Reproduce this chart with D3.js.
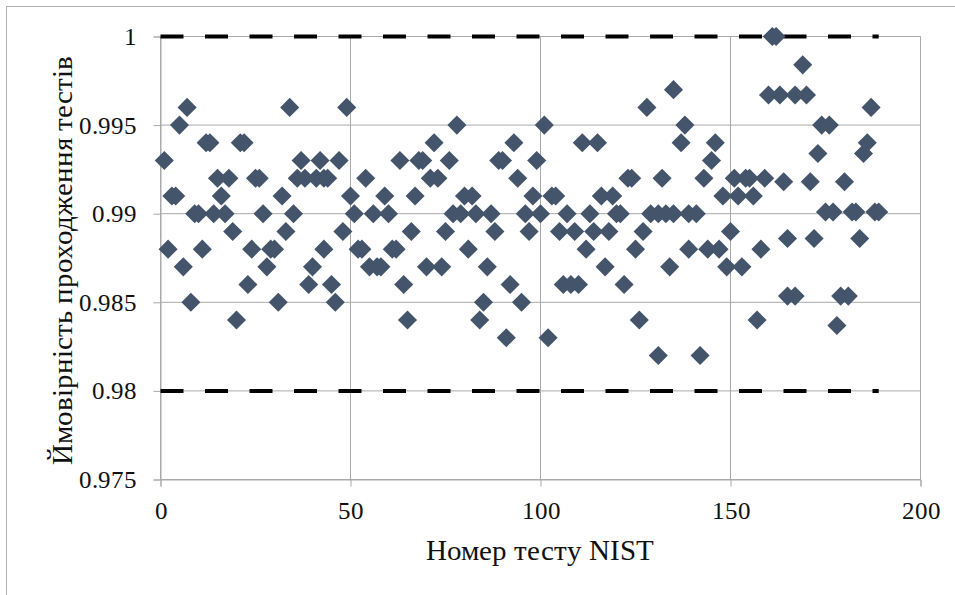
<!DOCTYPE html>
<html>
<head>
<meta charset="utf-8">
<script src="https://cdn.jsdelivr.net/npm/d3@7"></script>
<style>
  @font-face { font-family: "ChartSerif"; src: local("Liberation Serif"), local("LiberationSerif"), local("Liberation Serif Regular"), local("LiberationSerif-Regular"); }
  .serif-text { font-family: "ChartSerif", "Liberation Serif", "Times New Roman", serif; }
</style>
</head>
<body style="margin:0">
<svg id="chart" width="955" height="595"></svg>
<script>
// номер тесту NIST і ймовірність проходження
const testNumber = [
    1, 2, 3, 4, 5, 6, 7, 8, 9, 10,
    11, 12, 13, 14, 15, 16, 17, 18, 19, 20,
    21, 22, 23, 24, 25, 26, 27, 28, 29, 30,
    31, 32, 33, 34, 35, 36, 37, 38, 39, 40,
    41, 42, 43, 43, 44, 45, 46, 47, 48, 49,
    50, 51, 52, 53, 54, 55, 56, 57, 58, 59,
    60, 61, 62, 63, 64, 65, 66, 67, 68, 69,
    70, 71, 72, 73, 74, 75, 76, 77, 78, 79,
    80, 81, 82, 83, 84, 85, 86, 87, 88, 89,
    90, 91, 92, 93, 94, 95, 96, 97, 98, 99,
    100, 101, 102, 103, 104, 105, 106, 107, 108, 109,
    110, 111, 112, 113, 114, 115, 116, 117, 118, 119,
    120, 121, 122, 123, 124, 125, 126, 127, 128, 129,
    131, 131, 132, 133, 134, 135, 135, 137, 138, 139,
    139, 141, 142, 143, 144, 145, 146, 147, 148, 149,
    150, 151, 152, 153, 154, 155, 156, 157, 158, 159,
    160, 161, 162, 163, 164, 165, 165, 167, 167, 169,
    170, 171, 172, 173, 174, 175, 176, 177, 178, 179,
    180, 181, 182, 183, 184, 185, 186, 187, 188, 189
];
const passRate = [
    0.993, 0.988, 0.991, 0.991, 0.995, 0.987, 0.996, 0.985, 0.990, 0.990,
    0.988, 0.994, 0.994, 0.990, 0.992, 0.991, 0.990, 0.992, 0.989, 0.984,
    0.994, 0.994, 0.986, 0.988, 0.992, 0.992, 0.990, 0.987, 0.988, 0.988,
    0.985, 0.991, 0.989, 0.996, 0.990, 0.992, 0.993, 0.992, 0.986, 0.987,
    0.992, 0.993, 0.992, 0.988, 0.992, 0.986, 0.985, 0.993, 0.989, 0.996,
    0.991, 0.990, 0.988, 0.988, 0.992, 0.987, 0.990, 0.987, 0.987, 0.991,
    0.990, 0.988, 0.988, 0.993, 0.986, 0.984, 0.989, 0.991, 0.993, 0.993,
    0.987, 0.992, 0.994, 0.992, 0.987, 0.989, 0.993, 0.990, 0.995, 0.990,
    0.991, 0.988, 0.991, 0.990, 0.984, 0.985, 0.987, 0.990, 0.989, 0.993,
    0.993, 0.983, 0.986, 0.994, 0.992, 0.985, 0.990, 0.989, 0.991, 0.993,
    0.990, 0.995, 0.983, 0.991, 0.991, 0.989, 0.986, 0.990, 0.986, 0.989,
    0.986, 0.994, 0.988, 0.990, 0.989, 0.994, 0.991, 0.987, 0.989, 0.991,
    0.990, 0.990, 0.986, 0.992, 0.992, 0.988, 0.984, 0.989, 0.996, 0.990,
    0.990, 0.982, 0.992, 0.990, 0.987, 0.997, 0.990, 0.994, 0.995, 0.988,
    0.990, 0.990, 0.982, 0.992, 0.988, 0.993, 0.994, 0.988, 0.991, 0.987,
    0.989, 0.992, 0.991, 0.987, 0.992, 0.992, 0.991, 0.984, 0.988, 0.992,
    0.9967, 1.000, 1.000, 0.9967, 0.9918, 0.9886, 0.98535, 0.98535, 0.9967, 0.9984,
    0.9967, 0.9918, 0.9886, 0.9934, 0.995, 0.9901, 0.995, 0.9901, 0.98369, 0.98535,
    0.9918, 0.98535, 0.9901, 0.9901, 0.9886, 0.9934, 0.994, 0.996, 0.9901, 0.9901
];

// межі (пунктирні лінії)
const limitLevels = [0.98, 1];
const limitFrom = [0, 189];

const xTicks = [0, 50, 100, 150, 200];
const yTicks = [0.975, 0.98, 0.985, 0.99, 0.995, 1];
const xTitle = "Номер тесту NIST";
const yTitle = "Ймовірність проходження тестів";

const gridColor = "#a9a9a9";
const markColor = "#44546a";

const svg = d3.select("#chart");

// outer chart frame (cut off at right and bottom)
svg.append("rect")
    .attr("x", 6.5).attr("y", 6.5)
    .attr("width", 1000).attr("height", 1000)
    .attr("fill", "#fff")
    .attr("stroke", "#b0b0b0");

const x = d3.scaleLinear().domain([0, 200]).range([160.5, 920.5]);
const y = d3.scaleLinear().domain([0.975, 1]).range([479.5, 36.5]);

// gridlines
svg.append("g").selectAll("line")
    .data(yTicks)
    .enter().append("line")
    .attr("x1", x(0)).attr("x2", x(200))
    .attr("y1", d => y(d)).attr("y2", d => y(d))
    .attr("stroke", gridColor);

svg.append("g").selectAll("line")
    .data(xTicks)
    .enter().append("line")
    .attr("x1", d => x(d)).attr("x2", d => x(d))
    .attr("y1", y(1)).attr("y2", y(0.975))
    .attr("stroke", gridColor);

// axes
const yAxis = svg.append("g")
    .attr("transform", `translate(${x(0)},0)`)
    .call(d3.axisLeft(y).tickValues(yTicks).tickSize(7).tickPadding(17).tickFormat(d => String(d)));
const xAxis = svg.append("g")
    .attr("transform", `translate(0,${y(0.975)})`)
    .call(d3.axisBottom(x).tickValues(xTicks).tickSize(7).tickPadding(15).tickFormat(d => String(d)));

[yAxis, xAxis].forEach(axis => {
    axis.attr("font-family", null).attr("font-size", null);
    axis.select(".domain").attr("stroke", gridColor);
    axis.selectAll(".tick line").attr("stroke", gridColor);
    axis.selectAll(".tick text")
        .attr("class", "serif-text")
        .attr("fill", "#111")
        .style("font-size", "25px");
});

// dashed limit lines
svg.append("g").selectAll("line")
    .data(limitLevels)
    .enter().append("line")
    .attr("x1", x(limitFrom[0])).attr("x2", x(limitFrom[1]))
    .attr("y1", d => y(d)).attr("y2", d => y(d))
    .attr("stroke", "#000")
    .attr("stroke-width", 4)
    .attr("stroke-dasharray", "23,21.5");

// points
const points = testNumber.map((n, i) => ({ n, p: passRate[i] }));
const diamond = d3.symbol().type(d3.symbolSquare).size(182);

svg.append("g").selectAll("path")
    .data(points)
    .enter().append("path")
    .attr("d", diamond)
    .attr("transform", d => `translate(${x(d.n)},${y(d.p)}) rotate(45)`)
    .attr("fill", markColor);

// titles
svg.append("text")
    .attr("class", "serif-text")
    .attr("x", 540).attr("y", 560)
    .attr("text-anchor", "middle")
    .style("font-size", "29px")
    .attr("fill", "#111")
    .text(xTitle);

svg.append("text")
    .attr("class", "serif-text")
    .attr("transform", "translate(72,260) rotate(-90)")
    .attr("text-anchor", "middle")
    .style("font-size", "29px")
    .attr("fill", "#111")
    .text(yTitle);
</script>
</body>
</html>
